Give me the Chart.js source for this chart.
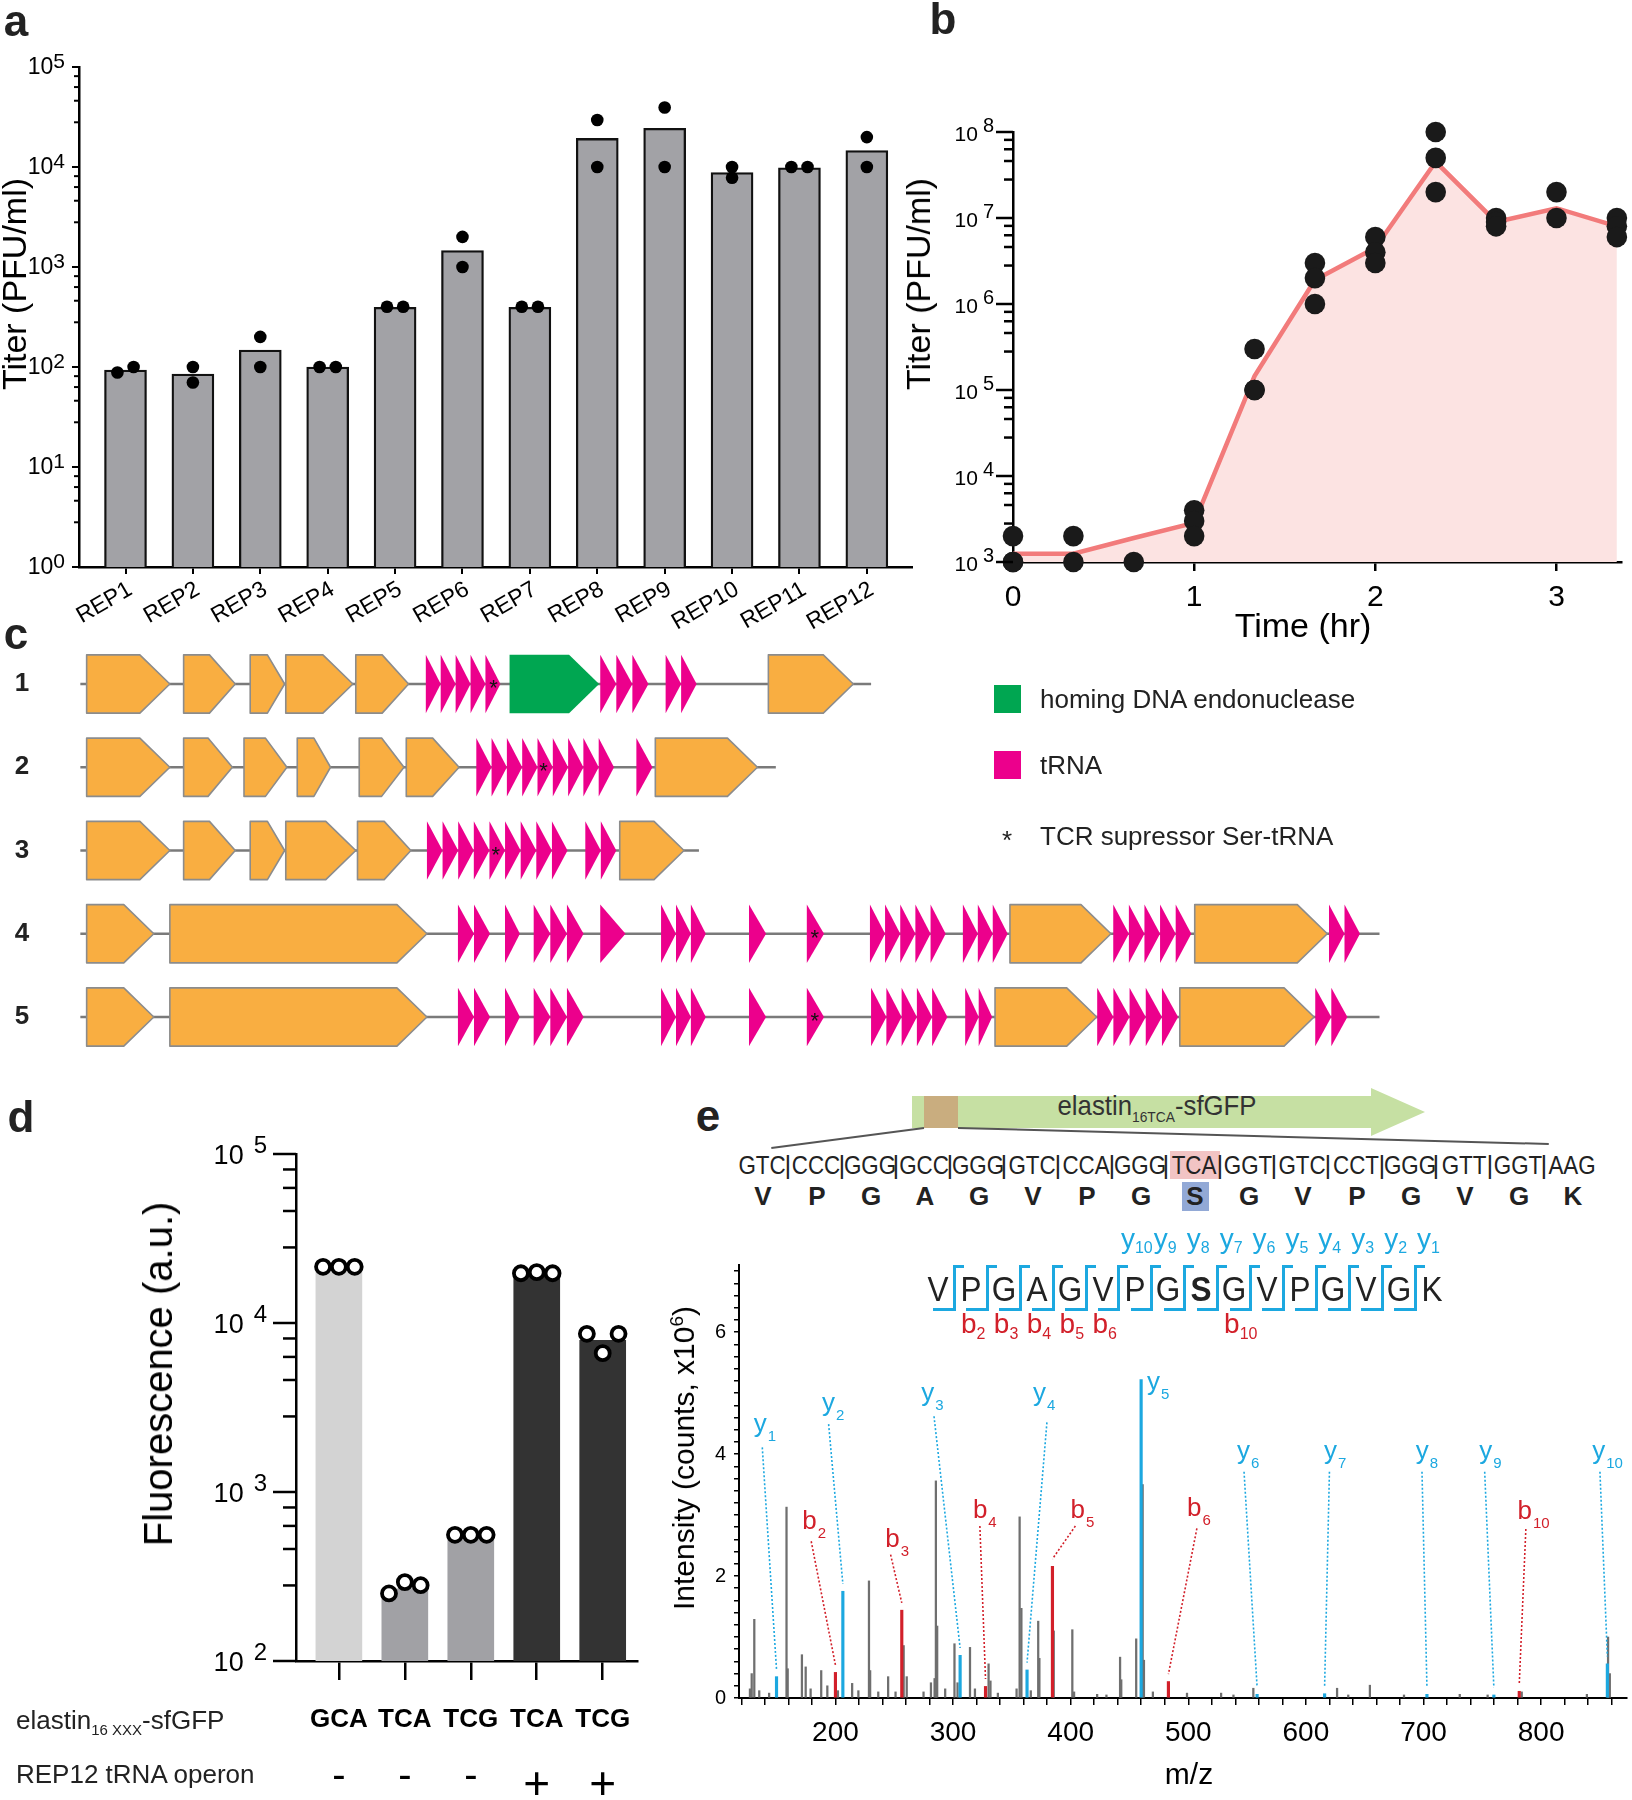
<!DOCTYPE html>
<html>
<head>
<meta charset="utf-8">
<title>Figure</title>
<script src="https://cdn.jsdelivr.net/npm/chart.js@4.4.1/dist/chart.umd.min.js"></script>
<style>
  html, body { margin: 0; padding: 0; background: #fff; }
  body { position: relative; width: 1632px; height: 1800px; overflow: hidden;
         font-family: "Liberation Sans", Arial, Helvetica, sans-serif; color: #000; }
  canvas { position: absolute; }
</style>
</head>
<body>
<canvas id="chartA" width="930" height="640" style="left:0px;top:0px"></canvas>
<canvas id="chartB" width="732" height="660" style="left:900px;top:0px"></canvas>
<canvas id="chartC" width="1632" height="430" style="left:0px;top:640px"></canvas>
<canvas id="chartD" width="660" height="700" style="left:0px;top:1100px"></canvas>
<canvas id="chartE" width="972" height="570" style="left:660px;top:1230px"></canvas>
<script>
// ---- a: titer of each REP operon ----
var repNames = ['REP1','REP2','REP3','REP4','REP5','REP6','REP7','REP8','REP9','REP10','REP11','REP12'];
var repMean  = [93, 85, 148, 100, 395, 1460, 395, 19300, 24400, 8800, 9800, 14600];
var repRun1  = [88, 100, 200, 100, 400, 2000, 400, 29500, 39400, 10000, 10000, 19900];
var repRun2  = [100, 70, 100, 100, 400, 1000, 400, 10000, 10000, 7800, 10000, 10000];

// ---- b: time course ----
var timeHr    = [0, 1/3, 2/3, 1, 4/3, 5/3, 2, 7/3, 8/3, 3, 10/3];
var titerMean = [1250, 1250, 1900, 2850, 145000, 1900000, 4500000, 45000000, 9000000, 13000000, 8000000];
var titerReps = [[2000,1000,1000],[2000,1000],[1000],[4000,3000,2000],[300000,100000,100000],
                 [3000000,2000000,1000000],[6000000,4000000,3000000],[100000000,50000000,20000000],
                 [10000000,9000000,8000000],[20000000,10000000],[10000000,8000000,6000000]];

// ---- c: operon maps (positions in map units) ----
var rowNames    = ['1','2','3','4','5'];
var backboneEnd = [759, 676, 609, 1202, 1202];
var orfRows = [
  [[75.5,148],[160,205],[218,248],[249,307.5],[310,356],[669.5,743.5]],
  [[75.5,148],[160,202.5],[212.6,250],[259,288],[313,352],[354,400],[571,660]],
  [[75.5,148],[160,205],[218,248],[249,310],[311.5,358],[540,596]],
  [[75.5,134],[148,372],[880,968],[1041,1156.5]],
  [[75.5,134],[148,372],[867,955.6],[1028,1145]]
];
var trnaRows = [
  [[371,436,5],[523,565,3],[580,607,2]],
  [[415,535,9],[554.5,568.5,1]],
  [[372,494.5,9],[510,537,2]],
  [[399,427,2],[440,453,1],[465,508.5,3],[523,545,1],[576,615,3],[652.6,667.5,1],[703,718,1],[758,824,5],[839,878,3],[970,1038,5],[1158,1185,2]],
  [[399,427,2],[440,453,1],[465,508.5,3],[576,615,3],[652.6,667.5,1],[703,718,1],[759,825.5,5],[841,864.5,2],[956,1026.5,5],[1146,1174,2]]
];
var endoRows = [[[444,522]], [], [], [], []];
var serStar  = [430, 473.5, 432, 710, 710];

// ---- d: fluorescence ----
var codons     = ['GCA','TCA','TCG','TCA','TCG'];
var operonSign = ['-','-','-','+','+'];
var fluorMean  = [21000, 267, 541, 19300, 7900];
var fluorReps  = [[21500,21500,21500],[251,293,281],[558,558,558],[19700,20000,19700],[8630,6630,8630]];
var fluorColor = ['#d3d3d3','#a1a1a5','#a1a1a5','#333333','#333333'];

// ---- e: MS/MS spectrum ----
var grayMz  = [127.3,128.8,131.0,135.2,143.6,158.4,159.4,171.5,174.7,178.9,187.9,193.1,202.1,214.2,219.5,228.5,229.5,236.4,244.8,251.1,258.0,260.6,274.9,281.2,284.3,285.4,286.5,293.3,301.2,303.8,314.4,318.6,330.2,331.8,338.1,354.0,356.6,358.1,366.1,372.4,373.4,385.6,401.4,402.9,422.5,430.4,442.0,443.0,455.7,461.2,462.3,469.9,498.9,527.9,538.4,555.3,626.5,636.0,654.4,683.4,730.8,754.5,783.5,838.9,856.9,858.4];
var grayInt = [0.15,0.40,1.29,0.12,0.08,3.13,0.48,0.71,0.51,0.15,0.45,0.20,0.12,0.24,0.12,1.92,0.45,0.10,0.35,0.10,0.86,0.35,0.10,0.25,0.32,3.56,1.18,0.15,0.89,0.25,0.83,0.15,0.56,0.28,0.08,0.15,2.97,1.47,0.12,1.26,0.65,1.10,1.12,0.10,0.06,0.05,0.67,0.30,0.97,3.50,0.62,0.10,0.08,0.08,0.05,0.16,0.16,0.05,0.21,0.05,0.06,0.05,0.10,0.06,1.00,0.40];
var yIonMz  = [149.9, 206.3, 306.0, 362.9, 459.9, 558.5, 615.9, 702.9, 759.8, 856.3];
var yIonInt = [0.35, 1.75, 0.70, 0.46, 5.22, 0.06, 0.07, 0.06, 0.05, 0.56];
var yIonLab = [[136,4.42],[194,4.77],[278.5,4.93],[373.5,4.93],[470.5,5.12],[547,3.99],[621,3.99],[699,3.99],[753,3.99],[849,3.99]];
var yIonLead = [[137.8,4.11],[194.2,4.49],[283.8,4.62],[379.8,4.52],null,[547.4,3.71],[620,3.71],[698.7,3.71],[752,3.71],[850,3.71]];
var bIonNum = ['2','3','4','5','6','10'];
var bIonMz  = [200.0, 256.4, 327.6, 384.5, 483.1, 781.4];
var bIonInt = [0.42, 1.44, 0.19, 2.16, 0.27, 0.11];
var bIonLab = [[178,2.92],[248.5,2.63],[323,3.1],[406,3.1],[505,3.13],[786,3.08]];
var bIonLead = [[179.4,2.57],[246.9,2.35],[322.8,2.82],[404,2.82],[507.3,2.78],[787,2.77]];

var dnaCodons  = ['GTC','CCC','GGG','GCC','GGG','GTC','CCA','GGG','TCA','GGT','GTC','CCT','GGG','GTT','GGT','AAG'];
var aminoAcids = ['V','P','G','A','G','V','P','G','S','G','V','P','G','V','G','K'];

var FONT = '"Liberation Sans", Arial, sans-serif';
var CYAN = '#1ca8e0', RED = '#d2202a';
Chart.defaults.font.family = FONT;
Chart.defaults.color = '#000';

// log axis with 10^n labels and minor ticks
var powAxis = {
  id: 'powAxis',
  afterDraw: function(chart, args, o) {
    var s = chart.scales.y, ctx = chart.ctx, x0 = s.right;
    ctx.save();
    ctx.strokeStyle = '#000'; ctx.fillStyle = '#000'; ctx.lineWidth = o.tickWidth;
    for (var e = o.from; e <= o.to; e++) {
      var y = s.getPixelForValue(Math.pow(10, e));
      ctx.beginPath(); ctx.moveTo(x0 - o.majorLen, y); ctx.lineTo(x0, y); ctx.stroke();
      if (e < o.to) {
        o.minors.forEach(function(m) {
          var ym = s.getPixelForValue(m * Math.pow(10, e));
          ctx.beginPath(); ctx.moveTo(x0 - o.minorLen, ym); ctx.lineTo(x0, ym); ctx.stroke();
        });
      }
      var xr = x0 - o.majorLen - o.gap;
      ctx.textAlign = 'right'; ctx.textBaseline = 'middle';
      ctx.font = o.supSize + 'px ' + FONT;
      ctx.fillText(String(e), xr, y - o.raise);
      var w = ctx.measureText(String(e)).width;
      ctx.font = o.baseSize + 'px ' + FONT;
      ctx.fillText('10', xr - w - o.supGap, y + o.drop);
    }
    ctx.restore();
  }
};

function base(extra) {
  var o = { responsive: false, animation: false, devicePixelRatio: 1, events: [],
    plugins: { legend: { display: false }, tooltip: { enabled: false } } };
  for (var k in extra) o[k] = extra[k];
  return o;
}
function fixedTicks(vals) { return function(s) { s.ticks = vals.map(function(v) { return { value: v }; }); }; }

// ---------- a ----------
var dotsA = [];
repNames.forEach(function(n, i) {
  var a = repRun1[i], b = repRun2[i];
  var side = Math.max(a, b) / Math.min(a, b) < 1.15;
  dotsA.push({ x: side ? i - 0.12 : i, y: a }, { x: side ? i + 0.12 : i, y: b });
});
var optA = base({
  layout: { padding: { top: 67, right: 18, left: 0, bottom: 0 } },
  scales: {
    x: { type: 'linear', offset: false, min: -0.69, max: 11.67,
         afterBuildTicks: fixedTicks(repNames.map(function(n, i) { return i; })),
         ticks: { callback: function(v, i) { return repNames[i]; }, autoSkip: false,
                  minRotation: 30, maxRotation: 30, font: { size: 23 }, padding: 2, labelOffset: 5 },
         grid: { drawOnChartArea: false, offset: false, tickLength: 7, color: '#000', lineWidth: 2 },
         border: { color: '#000', width: 2.5 },
         afterFit: function(s) { s.height = 73; } },
    y: { type: 'logarithmic', min: 1, max: 100000, ticks: { display: false }, grid: { display: false },
         border: { color: '#000', width: 2.5 }, afterFit: function(s) { s.width = 79; } }
  }
});
optA.plugins.powAxis = { from: 0, to: 5, minors: [2.8, 4.6, 6.3, 8.1], majorLen: 7, minorLen: 5, tickWidth: 2,
  gap: 7, baseSize: 23, supSize: 21, raise: 5, drop: 1, supGap: 0 };
new Chart(document.getElementById('chartA'), {
  type: 'bar',
  data: { datasets: [
    { type: 'scatter', data: dotsA, pointRadius: 6.3, backgroundColor: '#000', borderWidth: 0, order: 1 },
    { type: 'bar', data: repMean.map(function(v, i) { return { x: i, y: v }; }),
      backgroundColor: '#a2a2a6', borderColor: '#111', borderWidth: 2.3, barThickness: 42, order: 2 }
  ] },
  options: optA, plugins: [powAxis]
});

// ---------- b ----------
var dotsB = [];
titerReps.forEach(function(r, i) { r.forEach(function(v) { dotsB.push({ x: timeHr[i], y: v }); }); });
var optB = base({
  layout: { padding: { top: 132, right: 5, left: 0, bottom: 0 } },
  scales: {
    x: { type: 'linear', offset: false, min: 0, max: 3.36, afterBuildTicks: fixedTicks([0, 1, 2, 3]),
         ticks: { font: { size: 30 }, padding: 9, autoSkip: false, maxRotation: 0 },
         grid: { drawOnChartArea: false, tickLength: 9, color: '#000', lineWidth: 2.5 },
         border: { color: '#000', width: 2.5 }, afterFit: function(s) { s.height = 98; } },
    y: { type: 'logarithmic', min: 1000, max: 100000000, ticks: { display: false }, grid: { display: false },
         border: { color: '#000', width: 2.5 }, afterFit: function(s) { s.width = 113; } }
  }
});
optB.plugins.powAxis = { from: 3, to: 8, minors: [2.8, 4.6, 6.3, 8.1], majorLen: 17, minorLen: 9, tickWidth: 2.5,
  gap: 2, baseSize: 21, supSize: 20, raise: 6, drop: 3.5, supGap: 5 };
new Chart(document.getElementById('chartB'), {
  type: 'line',
  data: { datasets: [
    { type: 'scatter', data: dotsB, pointRadius: 10.3, backgroundColor: '#1a1a1a', borderWidth: 0, order: 1, clip: false },
    { type: 'line', data: timeHr.map(function(t, i) { return { x: t, y: titerMean[i] }; }),
      borderColor: '#f27b7b', borderWidth: 4.5, backgroundColor: '#fce3e2', fill: 'start',
      pointRadius: 0, tension: 0, order: 2 }
  ] },
  options: optB, plugins: [powAxis]
});

// ---------- c ----------
var genePlugin = {
  id: 'genes',
  afterDatasetsDraw: function(chart) {
    var xs = chart.scales.x, ys = chart.scales.y, ctx = chart.ctx;
    var half = Math.abs(ys.getPixelForValue(1.35) - ys.getPixelForValue(1));
    function pent(a, b, yc, fill, stroke) {
      var x0 = xs.getPixelForValue(a), x1 = xs.getPixelForValue(b);
      var tip = Math.min(30, 0.5 * (x1 - x0));
      ctx.beginPath();
      ctx.moveTo(x0, yc - half); ctx.lineTo(x1 - tip, yc - half); ctx.lineTo(x1, yc);
      ctx.lineTo(x1 - tip, yc + half); ctx.lineTo(x0, yc + half); ctx.closePath();
      ctx.fillStyle = fill; ctx.fill();
      if (stroke) { ctx.strokeStyle = stroke; ctx.lineWidth = 1.6; ctx.lineJoin = 'round'; ctx.stroke(); }
    }
    ctx.save();
    rowNames.forEach(function(name, r) {
      var yc = ys.getPixelForValue(r + 1);
      orfRows[r].forEach(function(g) { pent(g[0], g[1], yc, '#f9ae41', '#8c8c8c'); });
      endoRows[r].forEach(function(g) { pent(g[0], g[1], yc, '#00a651', null); });
      trnaRows[r].forEach(function(g) {
        var w = (g[1] - g[0]) / g[2];
        for (var k = 0; k < g[2]; k++) {
          var x0 = xs.getPixelForValue(g[0] + k * w), x1 = xs.getPixelForValue(g[0] + (k + 1) * w);
          ctx.beginPath(); ctx.moveTo(x0, yc - half); ctx.lineTo(x1, yc); ctx.lineTo(x0, yc + half); ctx.closePath();
          ctx.fillStyle = '#ec008c'; ctx.fill();
        }
      });
      ctx.fillStyle = '#111'; ctx.textAlign = 'center'; ctx.textBaseline = 'middle';
      ctx.font = '22px ' + FONT;
      ctx.fillText('*', xs.getPixelForValue(serStar[r]), yc + 5);
      ctx.font = 'bold 26px ' + FONT; ctx.fillStyle = '#222';
      ctx.fillText(name, 22, yc);
    });
    ctx.restore();
  }
};
new Chart(document.getElementById('chartC'), {
  type: 'scatter',
  data: { datasets: backboneEnd.map(function(e, r) {
    return { data: [{ x: 70, y: r + 1 }, { x: e, y: r + 1 }], showLine: true, pointRadius: 0,
             borderColor: '#7a7a7a', borderWidth: 2.5 };
  }) },
  options: base({
    layout: { padding: 0 },
    scales: { x: { type: 'linear', display: false, min: 0, max: 1422 },
              y: { type: 'linear', display: false, reverse: true, min: 0.4715, max: 5.6367 } }
  }),
  plugins: [genePlugin]
});

// ---------- d ----------
var circD = [];
fluorReps.forEach(function(r, i) { r.forEach(function(v, k) { circD.push({ x: i + (k - 1) * 0.24, y: v }); }); });
var signRow = {
  id: 'signRow',
  afterDraw: function(chart) {
    var xs = chart.scales.x, ctx = chart.ctx;
    ctx.save(); ctx.fillStyle = '#000'; ctx.textAlign = 'center'; ctx.textBaseline = 'middle';
    operonSign.forEach(function(s, i) {
      ctx.font = (s === '+' ? '46px ' : '40px ') + FONT;
      ctx.fillText(s, xs.getPixelForValue(i), s === '+' ? 686 : 677);
    });
    ctx.restore();
  }
};
var optD = base({
  layout: { padding: { top: 54, right: 23, left: 0, bottom: 0 } },
  scales: {
    x: { type: 'linear', offset: false, min: -0.65, max: 4.52, afterBuildTicks: fixedTicks([0, 1, 2, 3, 4]),
         ticks: { callback: function(v, i) { return codons[i]; }, autoSkip: false, maxRotation: 0,
                  font: { size: 26, weight: 'bold' }, padding: 24 },
         grid: { drawOnChartArea: false, offset: false, tickLength: 19, color: '#000', lineWidth: 2.5 },
         border: { color: '#000', width: 2.5 }, afterFit: function(s) { s.height = 139; } },
    y: { type: 'logarithmic', min: 100, max: 100000, ticks: { display: false }, grid: { display: false },
         border: { color: '#000', width: 2.5 }, afterFit: function(s) { s.width = 296; } }
  }
});
optD.plugins.powAxis = { from: 2, to: 5, minors: [2.8, 4.6, 6.3, 8.1], majorLen: 23, minorLen: 13, tickWidth: 2.5,
  gap: 6, baseSize: 27, supSize: 24, raise: 8, drop: 3, supGap: 10 };
new Chart(document.getElementById('chartD'), {
  type: 'bar',
  data: { datasets: [
    { type: 'scatter', data: circD, pointRadius: 7, backgroundColor: '#fff', borderColor: '#000',
      borderWidth: 3.8, order: 1, clip: false },
    { type: 'bar', data: fluorMean.map(function(v, i) { return { x: i, y: v }; }),
      backgroundColor: fluorColor, borderWidth: 0, barThickness: 46, order: 2 }
  ] },
  options: optD, plugins: [powAxis, signRow]
});

// ---------- e ----------
function leaderPts(from, mz, it) {
  var pts = [];
  from.forEach(function(f, i) {
    if (!f) return;
    pts.push({ x: f[0], y: f[1] }, { x: mz[i], y: it[i] + 0.12 }, { x: mz[i], y: null });
  });
  return pts;
}
var ionText = {
  id: 'ionText',
  afterDatasetsDraw: function(chart) {
    var xs = chart.scales.x, ys = chart.scales.y, ctx = chart.ctx;
    function put(ch, sub, mz, it, color, dy) {
      var x = xs.getPixelForValue(mz), y = ys.getPixelForValue(it);
      ctx.fillStyle = color; ctx.textAlign = 'left'; ctx.textBaseline = 'alphabetic';
      ctx.font = '26px ' + FONT;
      var w = ctx.measureText(ch).width;
      ctx.fillText(ch, x - w / 2, y + dy);
      ctx.font = '15px ' + FONT;
      ctx.fillText(sub, x + w / 2 + 1, y + dy + 9);
    }
    ctx.save();
    yIonLab.forEach(function(p, i) { put('y', String(i + 1), p[0], p[1], CYAN, 4); });
    bIonLab.forEach(function(p, i) { put('b', bIonNum[i], p[0], p[1], RED, 9); });
    ctx.restore();
  }
};
var mzTicks = [], intTicks = [];
for (var m = 120; m <= 860; m += 20) mzTicks.push(m);
for (var q = 0; q <= 35; q++) intTicks.push(q / 5);
new Chart(document.getElementById('chartE'), {
  type: 'bar',
  data: { datasets: [
    { type: 'bar', data: grayMz.map(function(m, i) { return { x: m, y: grayInt[i] }; }),
      backgroundColor: '#6f6f6f', barThickness: 1.6, grouped: false, order: 3 },
    { type: 'bar', data: yIonMz.map(function(m, i) { return { x: m, y: yIonInt[i] }; }),
      backgroundColor: CYAN, barThickness: 2.5, grouped: false, order: 2 },
    { type: 'bar', data: bIonMz.map(function(m, i) { return { x: m, y: bIonInt[i] }; }),
      backgroundColor: RED, barThickness: 2.5, grouped: false, order: 2 },
    { type: 'line', data: leaderPts(yIonLead, yIonMz, yIonInt), borderColor: CYAN, borderWidth: 1.6,
      borderDash: [2, 2], pointRadius: 0, spanGaps: false, order: 1 },
    { type: 'line', data: leaderPts(bIonLead, bIonMz, bIonInt), borderColor: RED, borderWidth: 1.6,
      borderDash: [2, 2], pointRadius: 0, spanGaps: false, order: 1 }
  ] },
  options: base({
    layout: { padding: { top: 35, right: 5, left: 0, bottom: 0 } },
    scales: {
      x: { type: 'linear', offset: false, min: 118, max: 873, afterBuildTicks: fixedTicks(mzTicks),
           ticks: { callback: function(v) { return v % 100 === 0 ? String(v) : ''; }, autoSkip: false,
                    maxRotation: 0, font: { size: 28 }, padding: 11 },
           grid: { drawOnChartArea: false, offset: false, tickLength: 7, color: '#000', lineWidth: 1.5 },
           border: { color: '#000', width: 2 }, afterFit: function(s) { s.height = 102; } },
      y: { type: 'linear', min: 0, max: 7.1, afterBuildTicks: fixedTicks(intTicks),
           ticks: { callback: function(v) { return (Math.abs(v - Math.round(v)) < 1e-6 && Math.round(v) % 2 === 0) ? String(Math.round(v)) : ''; },
                    autoSkip: false, font: { size: 20 }, padding: 8 },
           grid: { drawOnChartArea: false, tickLength: 5, color: '#000', lineWidth: 1.5 },
           border: { color: '#000', width: 2 }, afterFit: function(s) { s.width = 79; } }
    }
  }),
  plugins: [ionText]
});

// ---------- text and sketches around the charts ----------
function addDiv(css, html) {
  var d = document.createElement('div');
  d.style.cssText = 'position:absolute;' + css;
  if (html != null) d.innerHTML = html;
  document.body.appendChild(d);
  return d;
}
function label(html, x, y, css, mode, sx) {
  var tf = mode === 'l' ? 'translate(0,-50%)' : mode === 'r' ? 'translate(-50%,-50%) rotate(-90deg)' : 'translate(-50%,-50%)';
  if (sx) tf += ' scaleX(' + sx + ')';
  return addDiv('left:' + x + 'px;top:' + y + 'px;white-space:nowrap;line-height:1;transform:' + tf + ';' + (css || ''), html);
}
function segment(x1, y1, x2, y2, w, color) {
  var len = Math.hypot(x2 - x1, y2 - y1), ang = Math.atan2(y2 - y1, x2 - x1) * 180 / Math.PI;
  addDiv('left:' + x1 + 'px;top:' + (y1 - w / 2) + 'px;width:' + len + 'px;height:' + w + 'px;background:' + color +
         ';transform-origin:0 50%;transform:rotate(' + ang + 'deg)');
}

// panel letters
var PL = 'font-weight:bold;font-size:44px;color:#222;';
label('a', 16, 21, PL); label('b', 943, 19, PL); label('c', 16, 634, PL);
label('d', 21, 1117, PL); label('e', 708, 1116, PL);

// axis titles
label('Titer (PFU/ml)', 14, 284, 'font-size:34px;', 'r');
label('Titer (PFU/ml)', 918, 284, 'font-size:34px;', 'r');
label('Time (hr)', 1303, 625, 'font-size:34px;');
label('Fluorescence (a.u.)', 158, 1374, 'font-size:40px;', 'r');
label('Intensity (counts, x10<sup style="font-size:19px">6</sup>)', 683, 1458, 'font-size:30px;', 'r');
label('m/z', 1189, 1774, 'font-size:30px;');

// d row captions
label('elastin<sub style="font-size:15px">16 XXX</sub>-sfGFP', 16, 1722, 'font-size:26px;color:#222;', 'l');
label('REP12 tRNA operon', 16, 1774, 'font-size:26px;color:#222;', 'l');

// c legend
addDiv('left:994px;top:685px;width:27px;height:28px;background:#00a651');
label('homing DNA endonuclease', 1040, 699, 'font-size:26px;color:#222;', 'l');
addDiv('left:994px;top:751px;width:27px;height:28px;background:#ec008c');
label('tRNA', 1040, 765, 'font-size:26px;color:#222;', 'l');
label('*', 1007, 840, 'font-size:26px;color:#222;');
label('TCR supressor Ser-tRNA', 1040, 836, 'font-size:26px;color:#222;', 'l');

// e construct arrow
addDiv('left:912px;top:1088px;width:513px;height:48px;background:#c6e0a3;' +
       'clip-path:polygon(0 8px,459px 8px,459px 0,513px 24px,459px 48px,459px 40px,0 40px)');
addDiv('left:924px;top:1096px;width:34px;height:32px;background:#c9ad7f');
label('elastin<sub style="font-size:15px">16TCA</sub>-sfGFP', 1157, 1108, 'font-size:28px;color:#333;', 'c', 0.92);
segment(924, 1128, 771, 1148, 2, '#555');
segment(958, 1128, 1549, 1144, 2, '#555');

// DNA and protein sequence
var dnaLeft = 736, cellW = 54;
addDiv('left:' + (dnaLeft + 8 * cellW + 2) + 'px;top:1151px;width:50px;height:28px;background:#f2c4c4');
addDiv('left:' + (dnaLeft + 8 * cellW + 14) + 'px;top:1182px;width:27px;height:29px;background:#92a9d6');
dnaCodons.forEach(function(c, i) {
  label(c, dnaLeft + cellW * i + cellW / 2 - 1, 1165, 'font-size:26px;color:#222;', 'c', 0.86);
  if (i > 0) label('|', dnaLeft + cellW * i - 2, 1165, 'font-size:26px;color:#222;');
  label(aminoAcids[i], dnaLeft + cellW * i + cellW / 2, 1196, 'font-size:26px;font-weight:bold;color:#222;');
});

// peptide with fragment brackets
var pepX0 = 938, pepStep = 32.9;
aminoAcids.forEach(function(a, i) {
  label(a, pepX0 + pepStep * i, 1288, 'font-size:35px;color:#222;' + (a === 'S' ? 'font-weight:bold;' : ''), 'c', 0.9);
});
for (var i = 0; i < 15; i++) {
  var xd = pepX0 + pepStep * (i + 0.5);
  addDiv('left:' + (xd - 1.5) + 'px;top:1265px;width:11px;height:46px;border-left:3px solid ' + CYAN + ';border-top:3px solid ' + CYAN + ';box-sizing:border-box');
  addDiv('left:' + (xd - 21) + 'px;top:1308px;width:21px;height:3px;background:' + CYAN);
}
for (var n = 10; n >= 1; n--) {
  var xl = pepX0 + pepStep * (16 - n - 0.5) + 2;
  label('y<sub style="font-size:16px;vertical-align:-5px">' + n + '</sub>', xl, 1240, 'font-size:28px;color:' + CYAN + ';', 'l');
}
bIonNum.forEach(function(num, k) {
  var xl = pepX0 + pepStep * (Number(num) - 1) - 10;
  label('b<sub style="font-size:16px;vertical-align:-6px">' + num + '</sub>', xl, 1326, 'font-size:28px;color:' + RED + ';', 'l');
});
</script>
</body>
</html>
